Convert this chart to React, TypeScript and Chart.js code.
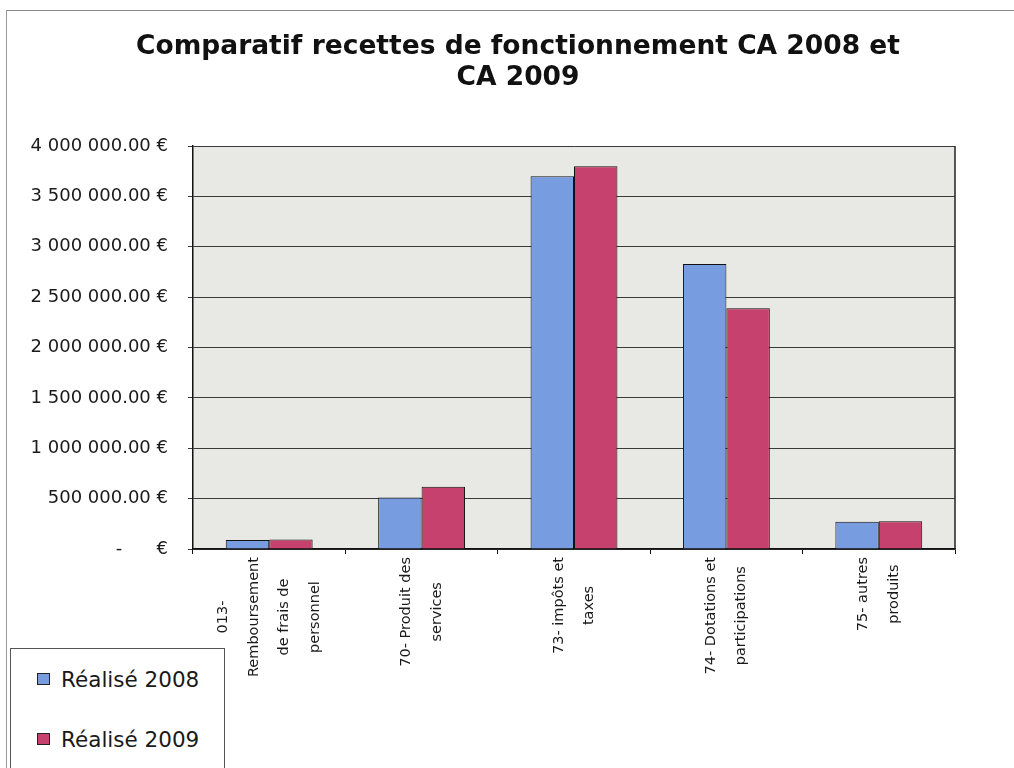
import React, { useEffect, useRef } from 'react';
import { Chart, registerables } from 'chart.js';

Chart.register(...registerables);

// ---- data ----
const titleLines = ['Comparatif recettes de fonctionnement CA 2008 et', 'CA 2009'];
const categories: string[][] = [
  ['013-', 'Remboursement', 'de frais de', 'personnel'],
  ['70- Produit des', 'services'],
  ['73- impôts et', 'taxes'],
  ['74- Dotations et', 'participations'],
  ['75- autres', 'produits'],
];
const seriesNames = ['Réalisé 2008', 'Réalisé 2009'];
const realise2008 = [90000, 510000, 3700000, 2830000, 270000];
const realise2009 = [95000, 617000, 3800000, 2390000, 275000];
const seriesColors = ['#779ce0', '#c6416d'];
const yMin = 0;
const yMax = 4000000;
const yStep = 500000;

function formatEuro(v: number): string {
  if (v === 0) return '-      €';
  const s = Math.round(v).toString().replace(/\B(?=(\d{3})+(?!\d))/g, ' ');
  return s + '.00 €';
}

const plotBg = {
  id: 'plotBg',
  beforeDraw(chart: any) {
    const { ctx, chartArea: a } = chart;
    ctx.save();
    ctx.fillStyle = '#e8e8e4';
    ctx.fillRect(a.left, a.top, a.right - a.left, a.bottom - a.top);
    ctx.restore();
  },
  beforeDatasetsDraw(chart: any) {
    const { ctx, chartArea: a } = chart;
    ctx.save();
    ctx.strokeStyle = '#222';
    ctx.lineWidth = 1.5;
    ctx.beginPath();
    ctx.moveTo(a.right, a.top);
    ctx.lineTo(a.right, a.bottom);
    ctx.stroke();
    ctx.restore();
  },
};

const titlePlugin = {
  id: 'customTitle',
  afterDraw(chart: any) {
    const { ctx } = chart;
    ctx.save();
    ctx.font = 'bold 26.5px "DejaVu Sans", sans-serif';
    ctx.fillStyle = '#111';
    ctx.textAlign = 'center';
    ctx.textBaseline = 'middle';
    titleLines.forEach((line, i) => {
      ctx.fillText(line, 518, 47 + i * 31);
    });
    ctx.restore();
  },
};

const xLabels = {
  id: 'xLabels',
  afterDraw(chart: any) {
    const { ctx } = chart;
    const xs = chart.scales.x;
    const labels = chart.data.labels as string[][];
    const lineGap = 30.5;
    const top = chart.chartArea.bottom + 8;
    ctx.save();
    ctx.font = '14.5px "DejaVu Sans", sans-serif';
    ctx.fillStyle = '#1a1a1a';
    ctx.textAlign = 'center';
    ctx.textBaseline = 'middle';
    labels.forEach((lines, i) => {
      const cx = xs.getPixelForValue(i);
      const maxW = Math.max(...lines.map((l) => ctx.measureText(l).width));
      const cy = top + maxW / 2;
      lines.forEach((line, j) => {
        const x = cx + (j - (lines.length - 1) / 2) * lineGap;
        ctx.save();
        ctx.translate(x, cy);
        ctx.rotate(-Math.PI / 2);
        ctx.fillText(line, 0, 0);
        ctx.restore();
      });
    });
    ctx.restore();
  },
};

export default function App() {
  const ref = useRef<HTMLCanvasElement | null>(null);

  useEffect(() => {
    if (!ref.current) return;
    const chart = new Chart(ref.current, {
      type: 'bar',
      data: {
        labels: categories as any,
        datasets: [
          {
            label: seriesNames[0],
            data: realise2008,
            backgroundColor: seriesColors[0],
            borderColor: '#111',
            borderWidth: 1,
            categoryPercentage: 0.57,
            barPercentage: 1,
          },
          {
            label: seriesNames[1],
            data: realise2009,
            backgroundColor: seriesColors[1],
            borderColor: '#111',
            borderWidth: 1,
            categoryPercentage: 0.57,
            barPercentage: 1,
          },
        ],
      },
      options: {
        responsive: false,
        animation: false,
        layout: { padding: { left: 0, right: 59, top: 146, bottom: 0 } },
        plugins: {
          legend: { display: false },
          tooltip: { enabled: false },
          title: { display: false },
        },
        scales: {
          x: {
            grid: {
              display: true,
              drawOnChartArea: false,
              drawTicks: true,
              tickLength: 5,
              color: '#111',
              offset: true,
            },
            border: { color: '#111', width: 1.5 },
            ticks: { display: false },
            afterFit: (s: any) => {
              s.height = 768 - 549;
            },
          },
          y: {
            min: yMin,
            max: yMax,
            grid: { color: '#3a3a3a', lineWidth: 1, tickLength: 5, drawTicks: true },
            border: { color: '#111', width: 1.5 },
            ticks: {
              stepSize: yStep,
              padding: 20,
              color: '#1a1a1a',
              font: { family: '"DejaVu Sans", sans-serif', size: 18 },
              callback: (v: any) => formatEuro(Number(v)),
            },
            afterFit: (s: any) => {
              s.width = 193;
            },
          },
        },
      },
      plugins: [plotBg, xLabels, titlePlugin],
    });
    return () => chart.destroy();
  }, []);

  return (
    <div
      style={{
        position: 'fixed',
        left: 0,
        top: 0,
        width: 1014,
        height: 768,
        background: '#fff',
        overflow: 'hidden',
      }}
    >
      <canvas ref={ref} width={1014} height={768} style={{ position: 'absolute', left: 0, top: 0 }} />
      <div style={{ position: 'absolute', left: 6, top: 10, width: 1008, height: 1, background: '#8a8a8a' }} />
      <div style={{ position: 'absolute', left: 6, top: 10, width: 1, height: 758, background: '#9a9a9a' }} />
      <div
        style={{
          position: 'absolute',
          left: 10,
          top: 648,
          width: 213,
          height: 140,
          borderLeft: '1px solid #555',
          borderTop: '1px solid #555',
          borderRight: '1px solid #555',
          background: '#fff',
          fontFamily: '"DejaVu Sans", sans-serif',
          fontSize: 21.5,
          color: '#1a1a1a',
        }}
      >
        {seriesNames.map((name, i) => (
          <div
            key={name}
            style={{
              position: 'absolute',
              left: 26,
              top: i === 0 ? 17 : 77,
              height: 26,
              display: 'flex',
              alignItems: 'center',
              whiteSpace: 'nowrap',
            }}
          >
            <span
              style={{
                display: 'inline-block',
                width: 11,
                height: 10,
                background: seriesColors[i],
                border: '1px solid #222',
                marginRight: 11,
              }}
            />
            <span>{name}</span>
          </div>
        ))}
      </div>
    </div>
  );
}
